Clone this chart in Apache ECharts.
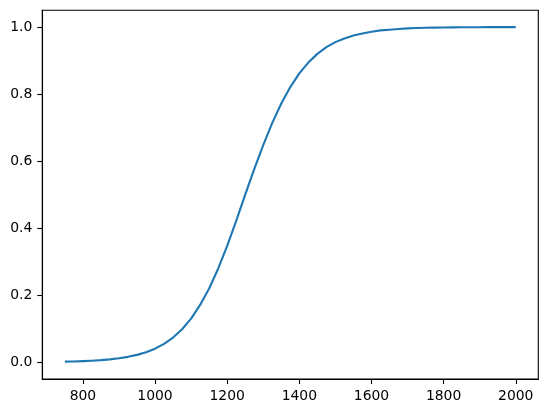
<!DOCTYPE html>
<html>
<head>
<meta charset="utf-8">
<script src="https://cdn.jsdelivr.net/npm/echarts@6/dist/echarts.min.js"></script>
<style>
  html, body { margin: 0; padding: 0; background: #fff; }
  #chart { width: 547px; height: 413px; }
</style>
</head>
<body>
<div id="chart"></div>
<script>
// values
const xValues = [
  750, 775, 800, 825, 850, 875, 900, 925, 950, 975,
  1000, 1025, 1050, 1075, 1100, 1125, 1150, 1175, 1200, 1225,
  1250, 1275, 1300, 1325, 1350, 1375, 1400, 1425, 1450, 1475,
  1500, 1525, 1550, 1575, 1600, 1625, 1650, 1675, 1700, 1725,
  1750, 1775, 1800, 1825, 1850, 1875, 1900, 1925, 1950, 1975, 2000
];
const yValues = [
  0.0018, 0.0024, 0.0034, 0.0046, 0.0063, 0.0086, 0.0118, 0.0161, 0.0220, 0.0298,
  0.0405, 0.0548, 0.0737, 0.0984, 0.130, 0.171, 0.220, 0.279, 0.347, 0.422,
  0.500, 0.576, 0.648, 0.714, 0.772, 0.821, 0.862, 0.894, 0.920, 0.940,
  0.955, 0.966, 0.975, 0.981, 0.986, 0.990, 0.992, 0.994, 0.996, 0.997,
  0.9978, 0.9983, 0.9988, 0.9991, 0.9993, 0.9995, 0.9996, 0.9997, 0.9998, 0.9998, 0.9999
];
const xTicks = [800, 1000, 1200, 1400, 1600, 1800, 2000];
const yTicks = [0, 0.2, 0.4, 0.6, 0.8, 1.0];

const chart = echarts.init(document.getElementById('chart'), null, { renderer: 'canvas' });

const font = { fontFamily: 'DejaVu Sans', fontSize: 13.9, color: '#000' };

chart.setOption({
  animation: false,
  grid: {
    left: 42.3,
    right: 8.7,
    top: 10.3,
    bottom: 34,
    show: true,
    borderColor: '#000',
    borderWidth: 1.1,
    backgroundColor: 'transparent'
  },
  xAxis: {
    type: 'value',
    min: 687.5,
    max: 2062.5,
    axisLine: { show: true, onZero: false, lineStyle: { color: '#000', width: 1.1 } },
    axisTick: {
      show: true, inside: false, length: 5,
      customValues: xTicks,
      lineStyle: { color: '#000', width: 1.1 }
    },
    axisLabel: Object.assign({
      margin: 10,
      customValues: xTicks,
      formatter: (v) => String(v)
    }, font),
    splitLine: { show: false }
  },
  yAxis: {
    type: 'value',
    min: -0.05,
    max: 1.05,
    axisLine: { show: true, onZero: false, lineStyle: { color: '#000', width: 1.1 } },
    axisTick: {
      show: true, inside: false, length: 5,
      customValues: yTicks,
      lineStyle: { color: '#000', width: 1.1 }
    },
    axisLabel: Object.assign({
      margin: 10,
      customValues: yTicks,
      formatter: (v) => v.toFixed(1)
    }, font),
    splitLine: { show: false }
  },
  series: [
    {
      type: 'line',
      data: xValues.map((x, i) => [x, yValues[i]]),
      showSymbol: false,
      smooth: false,
      lineStyle: { color: '#1f77b4', width: 2.1, cap: 'butt', join: 'round' }
    }
  ]
});
</script>
</body>
</html>
